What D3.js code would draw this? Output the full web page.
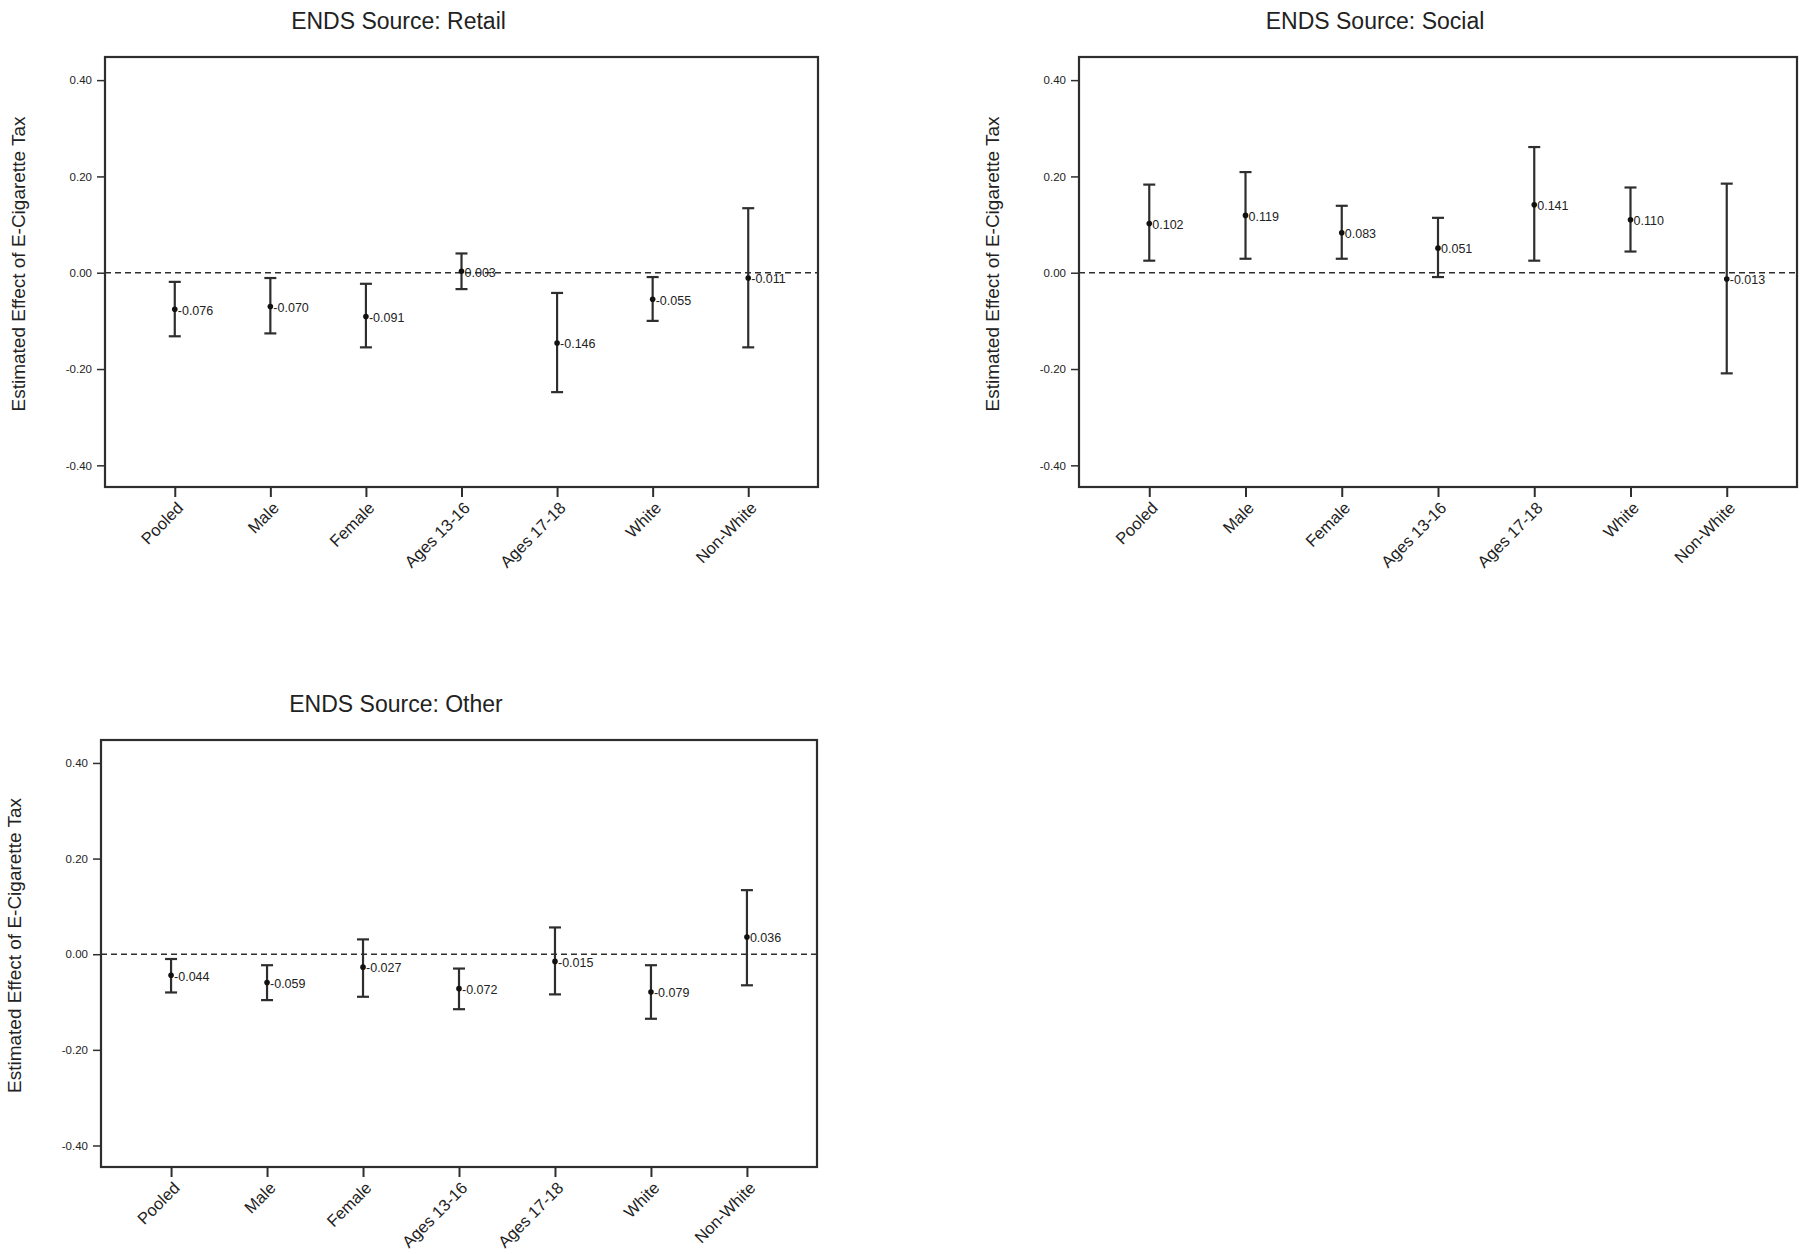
<!DOCTYPE html>
<html>
<head>
<meta charset="utf-8">
<script src="https://cdn.jsdelivr.net/npm/d3@7"></script>
<style>
  body { margin: 0; background: #fff; }
  svg text { font-family: "Liberation Sans", Arial, Helvetica, sans-serif; fill: #222; }
</style>
</head>
<body>
<div class="container"></div>
<script>
const WIDTH = 1800;
const HEIGHT = 1254;

var categories = ["Pooled", "Male", "Female", "Ages 13-16", "Ages 17-18", "White", "Non-White"];
var yTicks = [0.40, 0.20, 0.00, -0.20, -0.40];
var yLabel = "Estimated Effect of E-Cigarette Tax";

// point estimate, lower and upper bound of the interval
var retailEst = [-0.076, -0.070, -0.091, 0.003, -0.146, -0.055, -0.011];
var retailLo  = [-0.132, -0.126, -0.155, -0.034, -0.248, -0.100, -0.155];
var retailHi  = [-0.019, -0.011, -0.023, 0.040, -0.042, -0.009, 0.134];

var socialEst = [0.102, 0.119, 0.083, 0.051, 0.141, 0.110, -0.013];
var socialLo  = [0.025, 0.029, 0.029, -0.009, 0.025, 0.044, -0.209];
var socialHi  = [0.183, 0.209, 0.139, 0.114, 0.261, 0.177, 0.185];

var otherEst = [-0.044, -0.059, -0.027, -0.072, -0.015, -0.079, 0.036];
var otherLo  = [-0.080, -0.096, -0.089, -0.115, -0.084, -0.135, -0.065];
var otherHi  = [-0.010, -0.023, 0.031, -0.030, 0.056, -0.023, 0.134];

var panels = [
  {title: "ENDS Source: Retail", est: retailEst, lo: retailLo, hi: retailHi,
   left: 105, right: 818, top: 57, bottom: 487},
  {title: "ENDS Source: Social", est: socialEst, lo: socialLo, hi: socialHi,
   left: 1079, right: 1797, top: 57, bottom: 487},
  {title: "ENDS Source: Other", est: otherEst, lo: otherLo, hi: otherHi,
   left: 101, right: 817, top: 740, bottom: 1167}
];

var svg = d3.select('.container').append('svg')
  .attr('width', WIDTH)
  .attr('height', HEIGHT);

var translate = function(x, y){
  return "translate(" + x + "," + y + ")";
};

var INK = "#2e2e2e";

var drawPanel = function(p) {
  var xScale = d3.scalePoint()
    .domain(categories)
    .range([p.left, p.right])
    .padding(0.73);

  var yScale = d3.scaleLinear()
    .domain([-0.445, 0.448])
    .range([p.bottom, p.top]);

  var g = svg.append('g');

  // title and y label
  g.append('text')
    .attr('x', (p.left + p.right) / 2 - 63)
    .attr('y', p.top - 34)
    .attr('text-anchor', 'middle')
    .attr('dominant-baseline', 'middle')
    .style('font-size', '23px')
    .text(p.title);

  g.append('text')
    .attr('transform', translate(p.left - 85, (p.top + p.bottom) / 2 - 8) + " rotate(-90)")
    .attr('text-anchor', 'middle')
    .attr('dominant-baseline', 'middle')
    .style('font-size', '19px')
    .text(yLabel);

  // axes
  var yAxis = d3.axisLeft(yScale)
    .tickValues(yTicks)
    .tickSize(8)
    .tickPadding(5)
    .tickFormat(function(d){ return d.toFixed(2); });

  var xAxis = d3.axisBottom(xScale)
    .tickSize(10)
    .tickPadding(4);

  var ya = g.append('g')
    .attr('transform', translate(p.left, 0))
    .call(yAxis);
  ya.select('.domain').remove();
  ya.selectAll('line').attr('stroke', INK).attr('stroke-width', 1.5);
  ya.selectAll('text').style('font-size', '11.5px').attr('fill', '#222')
    .style('font-family', '"Liberation Sans", Arial, sans-serif');

  var xa = g.append('g')
    .attr('transform', translate(0, p.bottom))
    .call(xAxis);
  xa.select('.domain').remove();
  xa.selectAll('line').attr('stroke', INK).attr('stroke-width', 2);
  xa.selectAll('text')
    .style('font-size', '16.5px')
    .style('font-family', '"Liberation Sans", Arial, sans-serif')
    .attr('fill', '#222')
    .attr('text-anchor', 'end')
    .attr('x', 0)
    .attr('y', 0)
    .attr('dy', '0.35em')
    .attr('transform', 'translate(5,18) rotate(-45)');

  // frame
  g.append('rect')
    .attr('x', p.left)
    .attr('y', p.top)
    .attr('width', p.right - p.left)
    .attr('height', p.bottom - p.top)
    .attr('fill', 'none')
    .attr('stroke', INK)
    .attr('stroke-width', 2.2);

  // zero reference line
  g.append('line')
    .attr('x1', p.left)
    .attr('x2', p.right)
    .attr('y1', yScale(0))
    .attr('y2', yScale(0))
    .attr('stroke', INK)
    .attr('stroke-width', 1.6)
    .attr('stroke-dasharray', '6,4');

  var rows = categories.map(function(c, i){
    return {cat: c, est: p.est[i], lo: p.lo[i], hi: p.hi[i]};
  });

  var bars = g.selectAll('g.bar')
    .data(rows)
    .enter().append('g')
    .attr('class', 'bar');

  bars.append('line')
    .attr('x1', function(d){ return xScale(d.cat); })
    .attr('x2', function(d){ return xScale(d.cat); })
    .attr('y1', function(d){ return yScale(d.lo); })
    .attr('y2', function(d){ return yScale(d.hi); })
    .attr('stroke', INK)
    .attr('stroke-width', 2.2);

  ['lo', 'hi'].forEach(function(k){
    bars.append('line')
      .attr('x1', function(d){ return xScale(d.cat) - 6; })
      .attr('x2', function(d){ return xScale(d.cat) + 6; })
      .attr('y1', function(d){ return yScale(d[k]); })
      .attr('y2', function(d){ return yScale(d[k]); })
      .attr('stroke', INK)
      .attr('stroke-width', 2.2);
  });

  bars.append('circle')
    .attr('cx', function(d){ return xScale(d.cat); })
    .attr('cy', function(d){ return yScale(d.est); })
    .attr('r', 2.8)
    .attr('fill', '#111');

  bars.append('text')
    .attr('x', function(d){ return xScale(d.cat) + 3; })
    .attr('y', function(d){ return yScale(d.est) + 2; })
    .attr('dominant-baseline', 'middle')
    .style('font-size', '12.5px')
    .text(function(d){ return d.est.toFixed(3); });
};

panels.forEach(drawPanel);
</script>
</body>
</html>
